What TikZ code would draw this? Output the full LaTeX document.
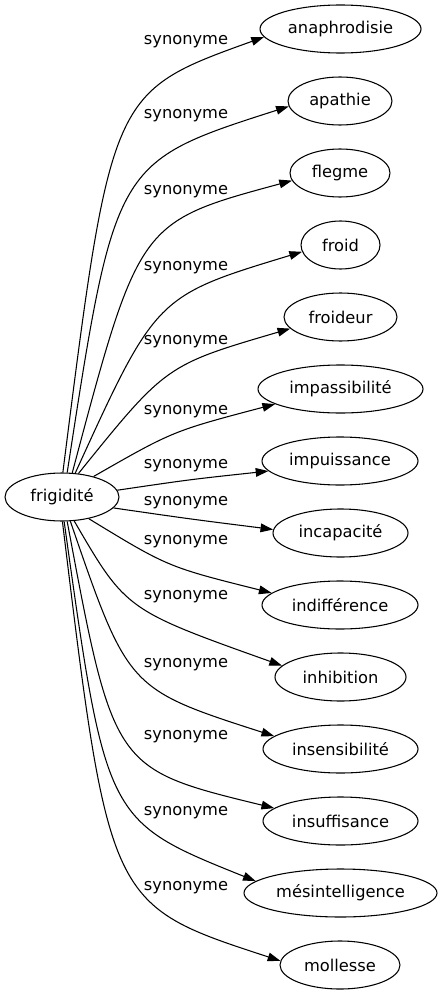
\documentclass[tikz,border=0pt]{standalone}
\usepackage{fontspec}
\setmainfont{DejaVu Sans}
\usetikzlibrary{arrows.meta}
\usetikzlibrary{shapes.geometric}

\tikzset{
  word/.style={ellipse, draw, line width=0.8pt, inner sep=0pt, minimum height=36pt},
  rel/.style={line width=0.8pt, -{Triangle[length=9.5pt, width=6.5pt]}},
}

\begin{document}
\begin{tikzpicture}[x=0.75pt, y=-0.75pt, font=\fontsize{12.2}{14}\selectfont]
  \useasboundingbox (0,0) rectangle (442,995);

  \node[word, minimum width=85.5pt] (frig) at (62,497) {frigidité};

  \node[word, minimum width=120.75pt] (anaph) at (340.5,29) {anaphrodisie};
  \node[word, minimum width=78pt] (apath) at (340,101) {apathie};
  \node[word, minimum width=75pt] (flegm) at (340,173) {flegme};
  \node[word, minimum width=59.25pt] (froid) at (340.5,245) {froid};
  \node[word, minimum width=84.75pt] (frdeur) at (340.5,317) {froideur};
  \node[word, minimum width=123.75pt] (impass) at (340.5,389) {impassibilité};
  \node[word, minimum width=117pt] (impuis) at (340,461) {impuissance};
  \node[word, minimum width=101.25pt] (incap) at (340.5,533) {incapacité};
  \node[word, minimum width=117pt] (indif) at (340,605) {indifférence};
  \node[word, minimum width=98.25pt] (inhib) at (340.5,677) {inhibition};
  \node[word, minimum width=116.25pt] (insens) at (340.5,749) {insensibilité};
  \node[word, minimum width=116.25pt] (insuf) at (340.5,821) {insuffisance};
  \node[word, minimum width=144.75pt] (mesint) at (340.5,893) {mésintelligence};
  \node[word, minimum width=90pt] (molle) at (340,965) {mollesse};

  \draw[rel] (frig.88) .. controls (111,92) .. (anaph.186);
  \draw[rel] (frig.78) .. controls (115,162) .. (apath.186);
  \draw[rel] (frig.67) .. controls (139,222) .. (flegm.189);
  \draw[rel] (frig.61) .. controls (156,296) .. (froid.190);
  \draw[rel] (frig.55) .. controls (166,365) .. (frdeur.193);
  \draw[rel] (frig.33) .. controls (173,431) .. (impass.193);
  \draw[rel] (frig.7) .. controls (190,479.5) .. (impuis.188);
  \draw[rel] (frig.-12) .. controls (190,519) .. (incap.177);
  \draw[rel] (frig.-39) .. controls (168,567) .. (indif.170);
  \draw[rel] (frig.-63) .. controls (126,610) .. (inhib.169);
  \draw[rel] (frig.-71) .. controls (128,689) .. (insens.169);
  \draw[rel] (frig.-78) .. controls (113.5,769) .. (insuf.169);
  \draw[rel] (frig.-85) .. controls (106,821) .. (mesint.172);
  \draw[rel] (frig.-89) .. controls (109,905) .. (molle.176);

  \node (l1) at (186,42) {synonyme};
  \node (l2) at (186,116) {synonyme};
  \node (l3) at (186,192) {synonyme};
  \node (l4) at (186,268) {synonyme};
  \node (l5) at (186,342) {synonyme};
  \node (l6) at (186,412) {synonyme};
  \node (l7) at (186,466) {synonyme};
  \node (l8) at (186,503) {synonyme};
  \node (l9) at (186,542) {synonyme};
  \node (l10) at (186,597) {synonyme};
  \node (l11) at (186,665) {synonyme};
  \node (l12) at (186,737) {synonyme};
  \node (l13) at (186,813) {synonyme};
  \node (l14) at (186,888) {synonyme};
\end{tikzpicture}
\end{document}
